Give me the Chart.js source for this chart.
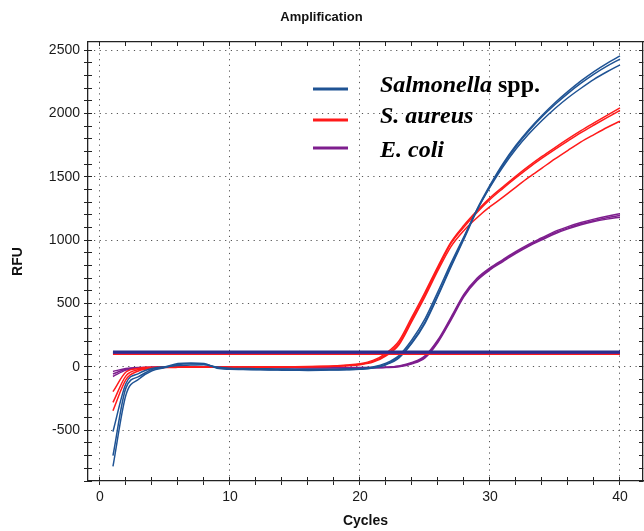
<!DOCTYPE html>
<html>
<head>
<meta charset="utf-8">
<script src="https://cdn.jsdelivr.net/npm/chart.js@4.4.1/dist/chart.umd.min.js"></script>
<style>
  html, body { margin: 0; padding: 0; background: #fff; }
  #wrap { width: 644px; height: 531px; position: relative; }
</style>
</head>
<body>
<div id="wrap"><canvas id="chart"></canvas></div>
<script>
const cycles = [1, 2, 3, 4, 5, 6, 7, 8, 9, 10, 11, 12, 13, 14, 15, 16, 17, 18, 19, 20,
  21, 22, 23, 24, 25, 26, 27, 28, 29, 30, 31, 32, 33, 34, 35, 36, 37, 38, 39, 40];

// Salmonella spp. replicates
const salmonella1 = [-785, -220, -95, -30, -5, 20, 25, 22, -5, -15, -18, -20, -22, -22, -24, -25, -24, -22, -20, -16,
  -5, 22, 78, 195, 355, 570, 800, 1020, 1245, 1435, 1605, 1750, 1875, 1985, 2085, 2175, 2258, 2332, 2397, 2455];
const salmonella2 = [-700, -165, -75, -20, 0, 28, 32, 28, -10, -18, -20, -22, -24, -25, -26, -27, -26, -24, -22, -18,
  -8, 18, 72, 188, 345, 560, 790, 1010, 1235, 1425, 1595, 1740, 1865, 1975, 2072, 2160, 2240, 2312, 2375, 2430];
const salmonella3 = [-510, -130, -50, -12, 2, 12, 15, 18, 0, -10, -12, -14, -15, -16, -17, -18, -18, -17, -15, -12,
  0, 30, 90, 215, 380, 595, 820, 1030, 1240, 1420, 1580, 1720, 1840, 1945, 2040, 2125, 2200, 2270, 2330, 2385];

// S. aureus replicates
const aureus1 = [-195, -40, -10, -2, 0, 2, 2, 1, 0, 0, 0, 1, 1, 2, 2, 3, 5, 8, 15, 26,
  52, 108, 205, 395, 590, 795, 985, 1118, 1232, 1335, 1422, 1507, 1587, 1662, 1732, 1800, 1865, 1926, 1986, 2045];
const aureus2 = [-280, -70, -20, -8, -3, 0, 0, -1, -2, -2, -1, 0, 0, 1, 1, 2, 3, 6, 12, 21,
  44, 96, 188, 378, 572, 780, 975, 1105, 1220, 1322, 1410, 1494, 1574, 1648, 1718, 1785, 1850, 1910, 1968, 2025];
const aureus3 = [-345, -100, -30, -10, -5, -3, -2, -2, -3, -3, -2, -2, -1, 0, 0, 1, 2, 5, 10, 18,
  38, 88, 176, 362, 555, 762, 950, 1078, 1178, 1265, 1340, 1420, 1498, 1570, 1642, 1710, 1776, 1834, 1890, 1940];

// E. coli replicates
const coli1 = [-35, -12, -4, -2, -1, 0, 0, 0, -1, -2, -3, -3, -4, -4, -4, -5, -5, -5, -5, -5,
  -4, -2, 8, 35, 88, 215, 392, 575, 700, 782, 848, 912, 970, 1020, 1070, 1108, 1140, 1167, 1190, 1210];
const coli2 = [-55, -18, -7, -3, -2, -1, -1, -1, -2, -3, -4, -4, -5, -5, -5, -6, -6, -6, -6, -6,
  -5, -3, 5, 30, 80, 205, 380, 565, 690, 774, 840, 904, 962, 1012, 1060, 1098, 1130, 1156, 1178, 1195];
const coli3 = [-75, -25, -10, -5, -3, -2, -2, -2, -3, -4, -5, -5, -6, -6, -6, -7, -7, -7, -7, -7,
  -6, -4, 2, 25, 72, 195, 370, 555, 682, 766, 832, 896, 954, 1004, 1052, 1090, 1122, 1148, 1167, 1182];

// threshold levels (navy, purple, red)
const thresholds = [118, 111, 102];

const xTicksMajor = 10;
const yTicksMajor = 500;

const legendNames = ["Salmonella", "S. aureus", "E. coli"];
const legendSuffix = [" spp.", "", ""];

const BLUE = "#1f5394";
const RED = "#ff1a1a";
const PURPLE = "#7e1e8e";
const NAVY = "#2c2f8c";

const pts = arr => arr.map((v, i) => ({x: cycles[i], y: v}));
const flat = v => [{x: cycles[0], y: v}, {x: cycles[cycles.length - 1], y: v}];

function curve(arr, color) {
  return {
    data: pts(arr), borderColor: color, borderWidth: 1.5,
    pointRadius: 0, cubicInterpolationMode: "monotone", fill: false,
  };
}
function thresholdLine(v, color, w) {
  return {data: flat(v), borderColor: color, borderWidth: w, pointRadius: 0, fill: false};
}

const legendPlugin = {
  id: "speciesLegend",
  afterDatasetsDraw(chart) {
    const ctx = chart.ctx;
    const colors = [BLUE, RED, PURPLE];
    const lineY = [89, 120, 148];
    const textY = [92, 123, 157];
    ctx.save();
    legendNames.forEach((name, i) => {
      ctx.strokeStyle = colors[i];
      ctx.lineWidth = 3;
      ctx.beginPath();
      ctx.moveTo(313, lineY[i]);
      ctx.lineTo(348, lineY[i]);
      ctx.stroke();
      ctx.fillStyle = "#000";
      ctx.textBaseline = "alphabetic";
      ctx.font = "italic bold 24px 'Liberation Serif', 'Times New Roman', serif";
      ctx.fillText(name, 380, textY[i]);
      if (legendSuffix[i]) {
        const w = ctx.measureText(name).width;
        ctx.font = "bold 24px 'Liberation Serif', 'Times New Roman', serif";
        ctx.fillText(legendSuffix[i], 380 + w, textY[i]);
      }
    });
    ctx.restore();
  },
};

const SANS = "'Liberation Sans', Arial, sans-serif";
const X_MIN = -0.92, X_MAX = 41.77, Y_MIN = -900, Y_MAX = 2565;
const gridDots = [1.2, 4.5];

new Chart(document.getElementById("chart"), {
  type: "line",
  data: {
    datasets: [
      thresholdLine(thresholds[0], NAVY, 3),
      thresholdLine(thresholds[1], PURPLE, 2),
      thresholdLine(thresholds[2], RED, 2),
      curve(salmonella1, BLUE), curve(salmonella2, BLUE), curve(salmonella3, BLUE),
      curve(aureus1, RED), curve(aureus2, RED), curve(aureus3, RED),
      curve(coli1, PURPLE), curve(coli2, PURPLE), curve(coli3, PURPLE),
    ],
  },
  options: {
    responsive: true,
    maintainAspectRatio: false,
    animation: false,
    devicePixelRatio: 1,
    layout: {padding: {left: 0, right: 1, top: 0, bottom: 0}, autoPadding: false},
    plugins: {
      legend: {display: false},
      tooltip: {enabled: false},
      title: {
        display: true, text: "Amplification", color: "#111",
        font: {family: SANS, size: 13, weight: "bold"},
        padding: {top: 10, bottom: 0},
      },
    },
    scales: {
      x: {
        type: "linear", position: "bottom", weight: 1, min: X_MIN, max: X_MAX,
        ticks: {
          stepSize: 2, includeBounds: false, autoSkip: false, maxRotation: 0, padding: 4,
          color: "#1a1a1a", font: {family: SANS, size: 14},
          callback: v => (v % xTicksMajor === 0 ? v : ""),
        },
        grid: {
          color: c => (c.tick && c.tick.value % xTicksMajor === 0 ? "#555" : "rgba(0,0,0,0)"),
          tickColor: "#222", tickLength: 4, lineWidth: 1,
        },
        border: {color: "#222", width: 1.3, dash: gridDots},
        title: {
          display: true, text: "Cycles", color: "#111",
          font: {family: SANS, size: 14, weight: "bold"}, padding: {top: 0, bottom: 1.6},
        },
        afterFit: s => { s.height = 50; },
      },
      xIn: {
        type: "linear", position: "bottom", weight: 0, min: X_MIN, max: X_MAX,
        ticks: {stepSize: 2, includeBounds: false, autoSkip: false, display: false},
        grid: {drawOnChartArea: false, tickColor: "#222", tickLength: -4},
        border: {display: false},
        afterFit: s => { s.height = 0; },
      },
      xTop: {
        type: "linear", position: "top", min: X_MIN, max: X_MAX,
        ticks: {stepSize: 2, includeBounds: false, autoSkip: false, display: false},
        grid: {drawOnChartArea: false, tickColor: "#222", tickLength: -4},
        border: {color: "#222", width: 1.3},
        afterFit: s => { s.height = 16.4; },
      },
      y: {
        type: "linear", position: "left", weight: 1, min: Y_MIN, max: Y_MAX,
        ticks: {
          stepSize: 100, includeBounds: false, autoSkip: false, padding: 4,
          color: "#1a1a1a", font: {family: SANS, size: 14},
          callback: v => (v % yTicksMajor === 0 ? v : ""),
        },
        grid: {
          color: c => (c.tick && c.tick.value % yTicksMajor === 0 ? "#555" : "rgba(0,0,0,0)"),
          tickColor: "#222", tickLength: 4, lineWidth: 1,
        },
        border: {color: "#222", width: 1.3, dash: gridDots},
        title: {
          display: true, text: "RFU", color: "#111",
          font: {family: SANS, size: 14, weight: "bold"}, padding: {top: 9.6, bottom: 0},
        },
        afterFit: s => { s.width = 88; },
      },
      yIn: {
        type: "linear", position: "left", weight: 0, min: Y_MIN, max: Y_MAX,
        ticks: {stepSize: 100, includeBounds: false, autoSkip: false, display: false},
        grid: {drawOnChartArea: false, tickColor: "#222", tickLength: -4},
        border: {display: false},
        afterFit: s => { s.width = 0; },
      },
      yRight: {
        type: "linear", position: "right", min: Y_MIN, max: Y_MAX,
        ticks: {stepSize: 100, includeBounds: false, autoSkip: false, display: false},
        grid: {drawOnChartArea: false, tickColor: "#222", tickLength: -4},
        border: {color: "#222", width: 1.3},
        afterFit: s => { s.width = 0; },
      },
    },
  },
  plugins: [legendPlugin],
});
</script>
</body>
</html>
